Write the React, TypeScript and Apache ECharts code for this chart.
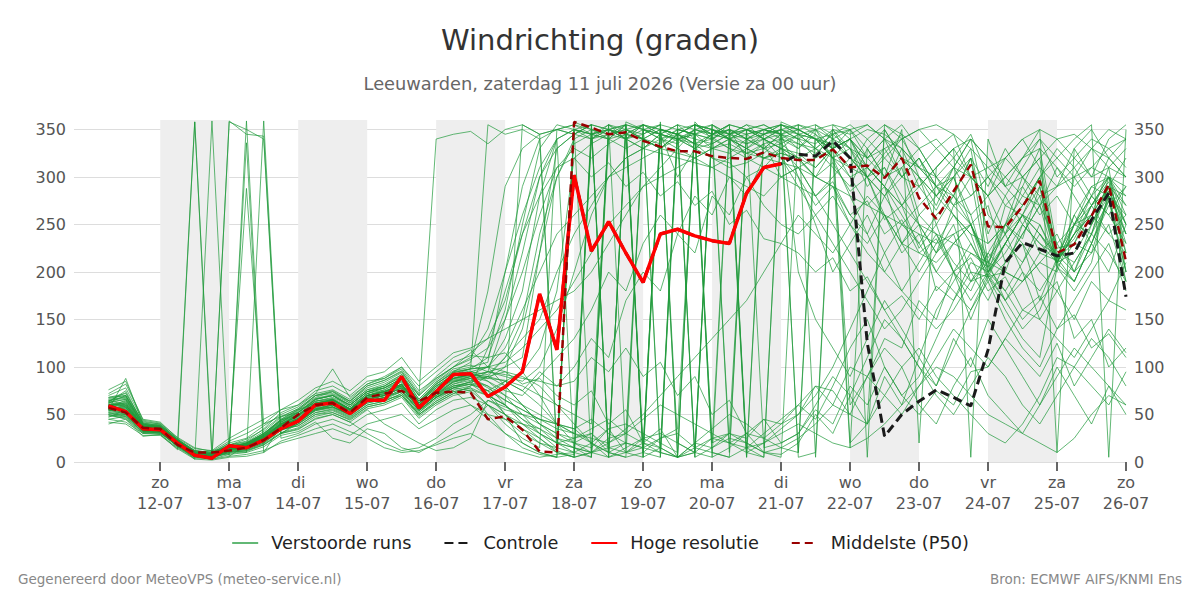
import React, { useEffect, useRef } from 'react';
import * as echarts from 'echarts';

const FONT = '"DejaVu Sans", sans-serif';

const TITLE = 'Windrichting (graden)';
const SUBTITLE = 'Leeuwarden, zaterdag 11 juli 2026 (Versie za 00 uur)';
const FOOT_LEFT = 'Gegenereerd door MeteoVPS (meteo-service.nl)';
const FOOT_RIGHT = 'Bron: ECMWF AIFS/KNMI Ens';

// hours since za 11-07 00:00
const HOURS = [6,12,18,24,30,36,42,48,54,60,66,72,78,84,90,96,102,108,114,120,126,132,138,144,150,156,162,168,174,180,186,192,198,204,210,216,222,228,234,240,246,252,258,264,270,276,282,288,294,300,306,312,318,324,330,336,342,348,354,360];

const DAY_TICKS = [24,48,72,96,120,144,168,192,216,240,264,288,312,336,360];
const DAY_NAMES = ['zo','ma','di','wo','do','vr','za','zo','ma','di','wo','do','vr','za','zo'];
const DAY_DATES = ['12-07','13-07','14-07','15-07','16-07','17-07','18-07','19-07','20-07','21-07','22-07','23-07','24-07','25-07','26-07'];
const Y_TICKS = [0,50,100,150,200,250,300,350];
const BANDS = [[24,48],[72,96],[120,144],[168,192],[216,240],[264,288],[312,336]];

const HRES = [59,53,35,34,20,7,4,17,15,23,35,43,60,62,51,65,65,90,57,74,92,93,69,79,95,177,118,302,222,253,220,189,240,245,238,233,230,283,310,314];
const CONTROL = [59,53,35,34,20,7,4,17,15,23,35,43,60,62,51,65,65,90,57,74,92,93,69,79,95,177,118,302,222,253,220,189,240,245,238,233,230,283,310,314,324,322,338,320,125,27,50,64,76,68,59,118,210,231,224,217,220,255,283,174];
const P50 = [57,52,36,35,18,10,10,12,15,23,36,50,60,62,52,68,72,75,64,73,74,73,45,48,34,11,10,358,352,345,347,338,332,327,327,322,320,319,326,320,318,318,329,310,312,299,320,278,256,285,313,248,247,269,296,220,229,259,292,211];

const M01 = [62,70,38,36,22,10,7,14,18,28,40,48,66,70,58,72,78,85,60,80,88,95,92,110,150,240,300,335,345,350,340,355,345,338,350,342,330,325,335,340,330,345,320,300,310,290,330,290,265,300,330,230,250,280,310,215,235,270,300,220];
const M02 = [55,50,33,30,20,358,10,12,20,30,45,55,62,60,50,70,75,80,62,70,85,88,70,60,45,30,20,15,10,25,30,350,355,20,10,5,15,30,25,40,60,45,80,120,150,100,70,90,130,170,200,195,160,130,110,205,180,210,285,250];
const M03 = [60,58,36,38,18,3,359,6,18,25,40,45,58,62,55,68,72,88,55,75,95,105,180,290,330,345,350,355,350,5,358,350,340,345,335,330,325,340,345,350,340,335,350,320,300,325,345,300,270,310,340,260,240,290,330,225,230,260,310,200];
const M04 = [65,60,37,35,18,6,5,359,345,343,30,40,55,58,50,62,66,70,52,68,75,60,45,30,20,10,5,8,340,350,345,10,5,355,350,345,20,30,10,15,25,40,60,50,90,120,100,60,40,80,110,70,50,30,60,90,120,100,80,60];
const M05 = [52,48,34,32,16,5,10,8,359,20,42,50,60,65,55,65,70,78,58,72,80,82,75,85,95,120,180,320,335,345,350,340,330,345,335,320,315,300,310,330,345,340,330,350,5,355,340,310,300,280,320,210,250,300,320,215,240,270,295,240];
const M06 = [58,65,37,36,22,9,12,15,336,10,38,44,56,60,52,66,70,82,56,70,78,75,60,50,40,35,20,25,30,15,10,20,15,5,10,25,20,15,30,45,60,80,75,50,40,70,100,120,90,70,50,30,20,40,70,110,100,80,60,95];
const M07 = [60,55,35,33,19,7,8,12,10,359,30,42,55,60,50,64,68,74,55,68,78,85,95,100,110,220,330,345,355,350,340,330,345,355,5,350,340,330,320,325,318,300,290,260,240,280,310,250,220,270,300,200,230,260,290,210,220,250,280,190];
const M08 = [57,52,36,34,20,8,9,20,288,40,48,52,64,68,60,74,80,92,62,82,95,98,110,160,250,330,355,350,345,340,355,5,15,350,345,330,340,350,345,335,320,310,330,340,300,260,230,220,210,230,250,195,200,190,220,212,260,230,275,220];
const M09 = [63,75,40,37,21,9,6,13,16,24,36,45,60,65,55,70,74,80,62,78,92,94,70,50,35,25,12,5,355,350,345,340,335,350,355,345,340,325,330,345,335,325,340,350,330,300,320,260,280,300,320,240,280,250,230,218,200,240,290,280];
const M10 = [55,88,40,36,23,11,8,18,22,35,52,60,72,98,68,82,90,100,75,88,100,115,130,140,150,160,170,180,200,230,260,290,310,330,350,355,345,335,340,350,345,330,320,310,340,355,345,330,300,270,250,205,230,260,300,222,210,240,300,250];
const M11 = [50,45,30,30,17,6,4,10,12,18,30,35,45,50,42,55,40,30,20,12,15,25,65,55,50,45,40,35,20,10,5,10,25,30,15,10,5,15,20,35,50,70,100,140,180,220,250,270,290,280,260,200,220,250,280,210,240,280,320,340];
const M12 = [68,72,42,40,24,12,9,16,20,30,45,55,68,74,62,76,80,90,70,340,345,348,335,350,355,345,350,355,345,350,340,330,345,300,330,345,355,350,340,330,320,330,345,355,340,320,300,290,310,330,340,320,300,280,270,290,310,330,320,300];
const M13 = [48,50,32,33,18,7,6,12,15,22,35,38,50,52,45,58,62,70,50,62,72,80,90,80,60,40,30,20,15,35,40,30,20,10,355,350,345,340,350,355,345,340,335,320,300,280,250,230,200,180,160,198,170,190,210,200,250,240,275,200];
const M14 = [61,60,38,36,21,9,7,15,18,27,40,50,64,66,56,70,76,86,60,76,88,92,100,130,180,280,340,350,355,5,10,15,350,345,340,335,345,355,350,345,355,5,350,345,355,340,320,300,280,260,240,230,250,270,300,320,340,355,5,350];
const M15 = [54,57,35,34,19,8,7,14,17,25,38,46,58,62,52,66,70,78,56,70,82,88,78,65,55,45,35,30,25,20,30,45,60,50,40,30,20,10,5,358,350,340,320,330,300,310,280,250,220,240,190,210,170,200,150,180,150,190,170,210];
const M16 = [66,68,39,38,23,10,8,17,19,29,44,54,70,72,64,78,84,94,66,84,98,102,95,90,85,100,140,200,260,300,320,330,325,320,315,310,300,290,280,300,310,320,330,340,350,345,330,310,290,270,280,300,320,340,350,340,320,300,310,330];
const M17 = [45,48,31,32,16,5,3,8,10,16,28,32,42,25,20,35,30,15,10,20,30,40,60,45,30,20,15,10,5,355,345,340,350,345,330,320,310,315,325,340,350,355,345,330,310,290,270,250,240,230,220,210,200,190,210,230,250,260,240,220];
const M18 = [59,63,37,36,20,8,6,14,17,26,39,47,60,64,54,68,72,80,58,72,84,90,88,86,80,70,60,50,40,350,345,355,345,340,350,345,355,10,20,30,40,30,20,15,25,40,60,80,100,90,70,50,40,30,20,10,25,50,70,60];
const M19 = [56,54,34,33,19,7,8,16,14,22,36,44,56,58,50,64,68,76,54,68,80,84,90,110,130,150,200,240,270,300,310,320,330,340,345,350,340,330,320,315,310,300,290,280,270,260,250,240,230,240,250,205,270,260,250,215,230,220,280,240];
const M20 = [64,73,41,38,22,10,7,15,19,28,42,52,66,70,60,74,78,88,64,80,92,98,100,105,120,140,160,190,220,250,270,290,300,310,320,330,340,345,350,355,5,10,355,350,320,340,300,320,280,300,260,280,240,260,220,240,200,220,250,190];
const M21 = [53,51,33,32,18,6,5,11,13,20,33,40,52,55,47,60,64,72,50,64,74,78,70,60,45,35,25,20,30,10,5,355,350,345,5,15,25,20,10,5,355,345,330,300,270,290,230,250,180,200,150,195,170,140,160,205,190,230,270,290];
const M22 = [67,70,40,39,24,11,9,18,21,32,47,56,70,74,64,80,86,96,70,86,100,108,120,150,200,260,310,330,320,335,345,340,330,325,320,330,335,325,320,330,325,310,330,340,320,300,310,330,340,320,300,280,300,320,330,310,290,310,330,340];
const M23 = [50,47,32,31,17,6,5,10,12,19,31,36,48,52,44,56,60,68,46,60,70,74,50,30,15,8,5,358,350,340,345,355,350,340,335,345,350,340,330,335,345,350,330,310,300,320,340,350,355,345,330,310,290,300,320,340,345,330,310,300];
const M24 = [60,62,37,35,21,9,8,15,18,26,40,50,62,66,56,70,74,82,60,76,86,90,85,75,70,90,110,130,160,200,180,230,260,240,280,260,300,280,320,325,320,300,315,285,300,255,270,225,250,200,230,195,230,210,250,210,240,260,290,230];
const M25 = [57,56,35,34,20,8,7,13,16,24,37,45,57,60,52,66,70,78,56,72,82,86,80,70,60,50,40,30,20,35,10,5,358,5,20,15,30,25,45,40,50,80,60,100,90,130,120,170,150,200,180,220,200,250,230,210,240,260,290,250];
const M26 = [62,66,38,37,22,10,8,16,19,28,41,50,64,67,58,72,76,84,62,78,90,95,100,95,90,80,60,40,20,10,350,340,330,345,355,350,340,335,345,350,340,320,350,330,290,310,270,300,250,280,320,290,330,300,270,310,280,250,290,320];
const M27 = [49,46,31,31,17,6,5,9,11,18,30,34,46,50,42,30,20,12,15,25,40,50,65,58,50,40,30,25,35,45,30,20,10,5,15,25,30,20,10,8,20,50,30,70,40,90,60,110,80,130,100,150,120,90,60,100,70,40,80,50];
const M28 = [63,58,37,36,21,9,7,14,17,26,39,49,62,65,56,70,74,82,60,76,88,92,88,100,140,220,300,340,350,345,355,10,350,345,335,340,350,345,330,320,300,270,290,250,230,260,220,240,200,230,250,210,240,200,180,210,190,230,200,250];
const M29 = [58,61,36,35,20,8,7,14,17,25,38,46,60,63,54,68,72,80,58,74,85,90,95,92,88,85,80,100,130,110,170,200,180,240,220,280,260,300,270,250,240,260,280,250,220,200,230,260,240,210,190,220,250,230,200,180,210,240,220,190];
const M30 = [55,52,34,34,19,7,6,13,15,23,36,43,55,58,50,64,68,74,54,68,78,82,75,65,55,45,40,35,45,30,20,15,25,35,355,345,340,350,355,345,330,350,320,340,310,330,300,320,290,310,280,300,270,290,260,280,250,270,240,260];
const M31 = [65,67,39,38,23,11,9,17,20,30,43,53,67,71,62,76,82,92,66,84,96,100,105,200,290,340,350,345,340,350,355,350,345,340,330,345,355,350,340,345,350,340,345,350,355,340,330,310,290,300,250,270,210,230,170,190,130,150,100,120];
const M32 = [51,49,33,32,18,6,5,11,13,20,34,38,50,54,46,58,62,70,48,62,72,76,70,85,75,95,80,85,110,95,120,90,105,70,90,50,65,30,45,20,30,55,40,80,60,100,70,50,75,60,95,100,130,110,90,125,80,110,140,115];
const M33 = [60,64,37,36,21,9,8,15,18,27,40,48,62,66,56,70,74,82,60,76,88,92,90,85,75,60,40,20,10,5,355,350,340,330,320,310,320,330,340,350,355,350,340,330,320,330,340,350,330,310,300,310,320,300,280,290,300,310,300,290];
const M34 = [54,53,34,33,19,7,6,12,15,23,35,42,54,57,49,62,66,74,52,66,76,80,120,180,240,280,310,320,300,315,290,305,280,295,270,285,250,265,235,230,220,200,215,180,195,160,175,150,185,170,210,200,250,235,290,205,300,270,285,240];
const M35 = [61,59,37,35,21,9,7,14,17,26,39,49,62,65,56,70,74,82,60,76,88,92,90,95,82,88,70,60,75,40,55,20,35,5,358,340,350,320,335,300,310,280,295,260,275,240,255,220,235,200,215,180,195,160,175,140,155,120,135,110];
const M36 = [58,57,36,35,20,8,7,14,17,25,38,46,58,62,53,67,71,79,57,73,84,88,80,60,355,345,10,350,5,340,355,15,350,345,10,355,340,5,350,345,10,340,320,15,330,300,350,20,310,330,5,340,290,320,350,10,330,300,340,355];
const M37 = [64,69,39,37,22,10,8,16,19,29,42,52,66,70,60,74,80,90,64,82,94,98,355,345,350,340,20,10,345,350,355,5,340,335,350,20,30,345,350,340,335,330,345,20,40,350,320,310,330,345,300,280,320,340,310,290,330,350,320,300];
const M38 = [52,50,33,32,18,6,6,11,14,21,34,40,52,56,48,60,64,72,50,64,74,78,60,40,25,15,350,345,355,10,20,350,345,355,340,10,5,350,345,355,350,340,330,60,90,70,50,80,110,140,120,100,130,160,150,130,110,140,170,160];
const M39 = [59,62,37,36,21,9,7,15,18,27,40,48,61,65,55,69,73,81,59,75,87,91,95,150,220,300,340,5,10,350,340,345,355,350,345,20,350,340,330,345,300,250,200,230,260,220,180,210,240,200,170,200,230,260,240,210,250,280,260,230];
const M40 = [56,58,35,34,20,8,7,13,16,24,37,44,56,60,52,66,70,78,56,70,80,84,75,50,20,10,5,350,340,355,10,25,15,5,355,345,350,15,5,355,345,330,310,290,330,350,320,300,280,310,340,320,290,270,300,330,310,280,260,290];
const M41 = [72,82,45,42,25,14,12,25,35,45,55,65,78,85,75,90,95,110,85,100,115,120,130,170,240,300,330,345,355,10,350,340,330,345,355,5,350,340,350,345,200,150,120,90,130,170,140,110,160,190,220,205,180,150,170,215,190,230,280,260];
const M42 = [42,40,28,28,14,3,2,5,6,10,22,28,35,40,32,25,15,10,12,18,25,30,20,15,10,5,8,10,20,5,15,25,30,20,10,355,345,350,15,20,30,60,90,70,110,150,130,100,80,120,160,190,150,120,100,140,170,200,230,180];
const M43 = [76,85,44,41,26,15,11,22,30,40,55,60,75,80,70,85,88,100,80,95,110,118,100,80,60,40,25,15,5,355,350,345,355,5,10,350,345,355,340,320,290,260,230,200,170,140,160,190,220,250,200,170,210,240,270,230,200,250,290,270];
const M44 = [40,45,27,29,13,358,3,6,8,12,20,25,30,35,28,40,45,50,35,45,55,60,50,45,40,30,20,15,10,20,35,50,70,90,110,130,150,170,200,230,260,240,220,250,280,260,230,200,230,260,240,190,210,240,270,205,230,270,300,260];
const M45 = [70,78,43,40,24,12,10,20,25,38,50,58,72,76,66,82,88,98,72,90,105,112,110,115,95,70,40,30,340,345,350,355,10,350,345,340,355,5,340,330,310,280,250,220,190,160,130,100,70,50,80,110,90,60,40,70,100,130,110,80];
const M46 = [45,42,30,29,15,4,4,358,350,340,25,30,40,45,38,50,55,62,40,55,65,68,60,50,35,20,10,5,10,15,20,15,10,5,20,35,50,40,25,15,10,355,340,320,300,280,300,320,290,260,230,200,180,210,240,215,260,290,300,270];
const M47 = [68,70,41,39,23,12,10,18,24,34,48,56,70,75,64,80,86,95,70,88,100,110,140,200,260,310,340,350,345,355,340,350,345,340,330,335,345,350,355,345,340,350,355,340,320,340,355,330,300,320,345,300,280,310,340,300,320,340,330,310];
const M48 = [47,55,32,31,17,6,6,14,18,28,44,50,60,66,56,72,78,88,62,80,92,96,85,70,50,30,15,350,345,340,330,340,350,345,355,350,340,330,345,355,350,340,320,280,240,200,180,160,140,160,190,198,230,260,240,218,250,280,300,280];
const M49 = [63,66,38,37,22,10,8,16,20,30,44,52,66,70,60,74,78,88,64,82,94,98,100,120,160,200,240,260,280,300,320,330,340,350,345,340,330,320,310,300,290,280,300,320,310,290,270,290,310,330,300,280,300,320,340,320,300,330,350,340];
const M50 = [55,60,35,34,19,7,6,13,15,22,35,42,54,58,50,64,68,76,54,68,78,82,70,60,40,25,10,5,350,345,340,355,5,340,345,355,10,350,340,330,320,300,330,340,310,290,260,230,260,280,250,215,240,270,300,210,250,290,280,200];

const MEMBERS = [M01,M02,M03,M04,M05,M06,M07,M08,M09,M10,M11,M12,M13,M14,M15,M16,M17,M18,M19,M20,M21,M22,M23,M24,M25,M26,M27,M28,M29,M30,M31,M32,M33,M34,M35,M36,M37,M38,M39,M40,M41,M42,M43,M44,M45,M46,M47,M48,M49,M50];

const toPairs = (vals: number[]) => vals.map((v, i) => [HOURS[i], v]);

export default function App() {
  const ref = useRef<HTMLDivElement>(null);
  useEffect(() => {
    if (!ref.current) return;
    const chart = echarts.init(ref.current, null, { renderer: 'svg' });
    const memberSeries = MEMBERS.map((m) => ({
      type: 'line',
      name: 'Verstoorde runs',
      data: toPairs(m),
      symbol: 'none',
      silent: true,
      z: 2,
      lineStyle: { color: '#1f9a3a', width: 1, opacity: 0.7 },
      itemStyle: { color: '#1f9a3a' },
    }));
    const yAxisBase = {
      type: 'value',
      min: 0,
      max: 360,
      interval: 50,
      axisLine: { show: false },
      axisTick: { show: false, customValues: Y_TICKS },
      axisLabel: { customValues: Y_TICKS, fontSize: 16, color: '#555', fontFamily: FONT, margin: 8 },
    };
    const xAxisBase = {
      type: 'value',
      min: -6,
      max: 360,
      position: 'bottom',
      offset: 0,
      axisLine: { show: false },
      splitLine: { show: false },
    };
    chart.setOption({
      animation: false,
      backgroundColor: '#ffffff',
      textStyle: { fontFamily: FONT },
      title: [
        { text: TITLE, left: 'center', top: 25, padding: 0, textStyle: { fontSize: 29, fontWeight: 'normal', color: '#333', fontFamily: FONT } },
        { text: SUBTITLE, left: 'center', top: 74, padding: 0, textStyle: { fontSize: 17.8, fontWeight: 'normal', color: '#666', fontFamily: FONT } },
      ],
      legend: {
        top: 529,
        left: 'center',
        itemWidth: 26,
        itemHeight: 14,
        itemGap: 32,
        itemStyle: { opacity: 0 },
        textStyle: { fontSize: 17.7, color: '#222', fontFamily: FONT, padding: [0, 0, 0, 8] },
        data: ['Verstoorde runs', 'Controle', 'Hoge resolutie', 'Middelste (P50)'],
      },
      grid: { left: 74, right: 74, top: 120, bottom: 138 },
      xAxis: [
        {
          ...xAxisBase,
          axisTick: { show: true, customValues: DAY_TICKS, length: 9, lineStyle: { color: '#666', width: 2 } },
          axisLabel: {
            customValues: DAY_TICKS,
            fontSize: 16,
            lineHeight: 20,
            color: '#555',
            fontFamily: FONT,
            margin: 10,
            formatter: (v: number) => {
              const i = DAY_TICKS.indexOf(Math.round(v));
              return i >= 0 ? DAY_NAMES[i] : '';
            },
          },
        },
        {
          ...xAxisBase,
          axisTick: { show: false, customValues: DAY_TICKS },
          axisLabel: {
            customValues: DAY_TICKS,
            fontSize: 16,
            lineHeight: 20,
            color: '#555',
            fontFamily: FONT,
            margin: 31,
            formatter: (v: number) => {
              const i = DAY_TICKS.indexOf(Math.round(v));
              return i >= 0 ? DAY_DATES[i] : '';
            },
          },
        },
      ],
      yAxis: [
        { ...yAxisBase, position: 'left', splitLine: { show: true, lineStyle: { color: '#dddddd', width: 1 } } },
        { ...yAxisBase, position: 'right', splitLine: { show: false } },
      ],
      series: [
        {
          type: 'line',
          data: [],
          silent: true,
          z: 1,
          markArea: {
            silent: true,
            itemStyle: { color: '#eeeeee' },
            data: BANDS.map((b) => [{ xAxis: b[0] }, { xAxis: b[1] }]),
          },
        },
        ...memberSeries,
        {
          type: 'line',
          name: 'Controle',
          data: toPairs(CONTROL),
          symbol: 'none',
          z: 3,
          lineStyle: { color: '#1a1a1a', width: 3, type: [9, 5] },
          itemStyle: { color: '#1a1a1a' },
        },
        {
          type: 'line',
          name: 'Hoge resolutie',
          data: toPairs(HRES),
          symbol: 'none',
          z: 4,
          lineStyle: { color: '#ff0000', width: 3.5 },
          itemStyle: { color: '#ff0000' },
        },
        {
          type: 'line',
          name: 'Middelste (P50)',
          data: toPairs(P50),
          symbol: 'none',
          z: 5,
          lineStyle: { color: '#990000', width: 2.5, type: [8, 5] },
          itemStyle: { color: '#990000' },
        },
      ],
      graphic: [
        { type: 'text', left: 18, top: 572, style: { text: FOOT_LEFT, fontSize: 13.5, fill: '#888', fontFamily: FONT } },
        { type: 'text', right: 18, top: 572, style: { text: FOOT_RIGHT, fontSize: 13.5, fill: '#888', fontFamily: FONT } },
      ],
    });
    return () => chart.dispose();
  }, []);
  return <div ref={ref} style={{ position: 'absolute', left: 0, top: 0, width: 1200, height: 600 }} />;
}
